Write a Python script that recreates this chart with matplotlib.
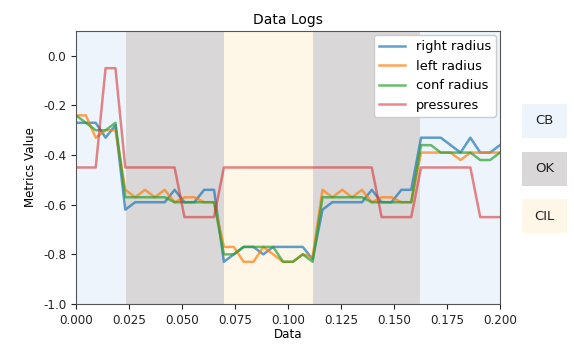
import numpy as np
import matplotlib
matplotlib.use("Agg")
import matplotlib.pyplot as plt
from matplotlib.patches import Rectangle

# ---- data ----
n_points = 44
x_start, x_end = 0.0, 0.2

right_radius = [-0.27, -0.27, -0.27, -0.33, -0.28,
                -0.62, -0.59, -0.59, -0.59, -0.59, -0.54, -0.59, -0.59, -0.54, -0.54,
                -0.83, -0.80, -0.77, -0.77, -0.80, -0.77, -0.77, -0.77, -0.77, -0.82,
                -0.62, -0.59, -0.59, -0.59, -0.59, -0.54, -0.59, -0.59, -0.54, -0.54,
                -0.33, -0.33, -0.33, -0.36, -0.39, -0.33, -0.39, -0.39, -0.36]
left_radius = [-0.24, -0.24, -0.33, -0.30, -0.30,
               -0.54, -0.57, -0.54, -0.57, -0.54, -0.59, -0.57, -0.57, -0.59, -0.59,
               -0.77, -0.77, -0.83, -0.83, -0.77, -0.80, -0.83, -0.83, -0.80, -0.81,
               -0.54, -0.57, -0.54, -0.57, -0.54, -0.59, -0.57, -0.57, -0.59, -0.59,
               -0.39, -0.39, -0.39, -0.39, -0.42, -0.39, -0.39, -0.39, -0.39]
conf_radius = [-0.24, -0.27, -0.30, -0.30, -0.27,
               -0.57, -0.57, -0.57, -0.57, -0.57, -0.59, -0.59, -0.59, -0.59, -0.59,
               -0.80, -0.80, -0.77, -0.77, -0.77, -0.77, -0.83, -0.83, -0.80, -0.83,
               -0.57, -0.57, -0.57, -0.57, -0.57, -0.59, -0.59, -0.59, -0.59, -0.59,
               -0.36, -0.36, -0.39, -0.39, -0.39, -0.39, -0.42, -0.42, -0.39]
pressures = [-0.45, -0.45, -0.45, -0.05, -0.05,
             -0.45, -0.45, -0.45, -0.45, -0.45, -0.45, -0.65, -0.65, -0.65, -0.65,
             -0.45, -0.45, -0.45, -0.45, -0.45, -0.45, -0.45, -0.45, -0.45, -0.45,
             -0.45, -0.45, -0.45, -0.45, -0.45, -0.45, -0.65, -0.65, -0.65, -0.65,
             -0.45, -0.45, -0.45, -0.45, -0.45, -0.45, -0.65, -0.65, -0.65]

series_names = ["right radius", "left radius", "conf radius", "pressures"]

# phase bands (start, end, label)
band_starts = [0.0, 0.0235, 0.0698, 0.1118, 0.1623]
band_ends = [0.0235, 0.0698, 0.1118, 0.1623, 0.2]
band_labels = ["CB", "OK", "CIL", "OK", "CB"]
phase_colors = {"CB": "#EDF4FB", "OK": "#D9D7D8", "CIL": "#FEF7E7"}
legend_phases = ["CB", "OK", "CIL"]

x_ticks = [0.0, 0.025, 0.05, 0.075, 0.1, 0.125, 0.15, 0.175, 0.2]
y_ticks = [-1.0, -0.8, -0.6, -0.4, -0.2, 0.0]

x = np.linspace(x_start, x_end, n_points)

fig = plt.figure(figsize=(5.74, 3.44), dpi=100)
ax = fig.add_axes([0.1324, 0.1163, 0.7386, 0.7937])

for s, e, lab in zip(band_starts, band_ends, band_labels):
    ax.axvspan(s, e, color=phase_colors[lab], lw=0, zorder=0)

colors = ["#1f77b4", "#ff7f0e", "#2ca02c", "#d62728"]
alphas = [0.7, 0.7, 0.7, 0.55]
for vals, name, c, a in zip([right_radius, left_radius, conf_radius, pressures],
                             series_names, colors, alphas):
    ax.plot(x, vals, color=c, alpha=a, lw=1.8, label=name)

ax.set_xlim(0, 0.2)
ax.set_ylim(-1.0, 0.1)
ax.set_xticks(x_ticks)
ax.xaxis.set_major_formatter(matplotlib.ticker.FormatStrFormatter("%.3f"))
ax.set_yticks(y_ticks)
ax.yaxis.set_major_formatter(matplotlib.ticker.FormatStrFormatter("%.1f"))
ax.tick_params(labelsize=8.6, colors="#222222")
ax.set_xlabel("Data", fontsize=8.6, labelpad=1)
ax.set_ylabel("Metrics Value", fontsize=8.6)
ax.set_title("Data Logs", fontsize=10, pad=5)
for sp in ax.spines.values():
    sp.set_color("#555555")

leg = ax.legend(loc="upper right", fontsize=9.4, framealpha=1.0, handlelength=2.0,
                borderaxespad=0.3, fancybox=True)
leg.get_frame().set_edgecolor("#cccccc")

# phase key boxes on the right
W, H = 574.0, 344.0
box_centers_y = [121, 169, 216]
for lab, cy in zip(legend_phases, box_centers_y):
    bx0 = 522 / W
    bw = 45 / W
    bh = 34 / H
    by0 = 1 - (cy + 17) / H
    fig.patches.append(Rectangle((bx0, by0), bw, bh, transform=fig.transFigure,
                                 facecolor=phase_colors[lab], edgecolor="none"))
    fig.text(bx0 + bw / 2, 1 - cy / H, lab, ha="center", va="center",
             fontsize=9.5, color="#222222")

fig.savefig("out.png", dpi=100)
